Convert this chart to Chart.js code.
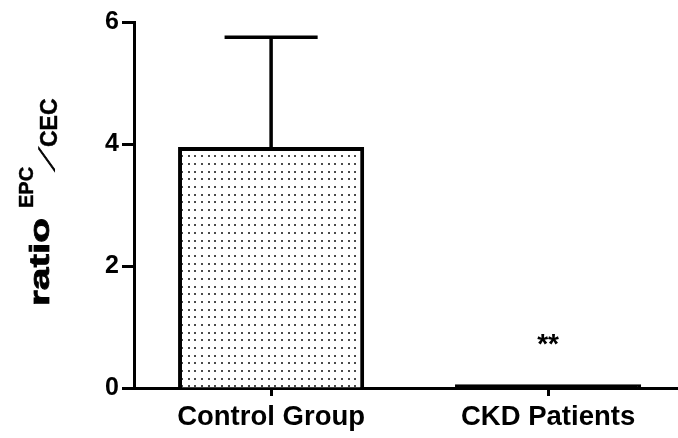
<!DOCTYPE html>
<html><head><meta charset="utf-8">
<script src="https://cdn.jsdelivr.net/npm/chart.js@4/dist/chart.umd.min.js"></script>
<style>html,body{margin:0;padding:0;background:#fff;overflow:hidden}#wrap{width:678px;height:438px;position:relative;background:#fff}</style>
</head><body><div id="wrap"><canvas id="c" width="678" height="438"></canvas></div>
<script>
// ---- data ----
const categories = ['Control Group', 'CKD Patients'];
const xPositions = [1, 2];
const means = [3.95, 0.06];
const errors = [1.8, 0];
const yTicks = [0, 2, 4, 6];
const annotations = ['', '**'];
const annotationY = [null, 0.57];
const yTitleParts = ['ratio', 'EPC', '/', 'CEC'];

const FONT = '"Liberation Sans", Arial, Helvetica, sans-serif';

// dotted fill pattern
function makePattern() {
  const t = document.createElement('canvas');
  t.width = 20; t.height = 23;
  const g = t.getContext('2d');
  g.fillStyle = '#fff'; g.fillRect(0, 0, 20, 23);
  g.fillStyle = '#4a4a4a';
  [1, 8, 14].forEach(px => [2, 10, 17].forEach(py => g.fillRect(px, py, 2, 2)));
  return document.getElementById('c').getContext('2d').createPattern(t, 'repeat');
}
const dotPattern = makePattern();

const extras = {
  id: 'extras',
  beforeDraw(chart) {
    const ctx = chart.ctx;
    ctx.save(); ctx.fillStyle = '#fff'; ctx.fillRect(0, 0, chart.width, chart.height); ctx.restore();
  },
  afterDatasetsDraw(chart) {
    const { ctx, scales: { x, y } } = chart;
    const meta = chart.getDatasetMeta(0);
    ctx.save();
    ctx.strokeStyle = '#000'; ctx.lineWidth = 3.5; ctx.lineCap = 'butt';
    meta.data.forEach((bar, i) => {
      if (!errors[i]) return;
      const cx = x.getPixelForValue(xPositions[i]);
      const y0 = y.getPixelForValue(means[i]);
      const y1 = y.getPixelForValue(means[i] + errors[i]);
      const half = bar.width / 4;
      ctx.beginPath();
      ctx.moveTo(cx, y0); ctx.lineTo(cx, y1);
      ctx.moveTo(cx - half, y1); ctx.lineTo(cx + half, y1);
      ctx.stroke();
    });
    ctx.fillStyle = '#000';
    ctx.font = 'bold 28px ' + FONT;
    ctx.textAlign = 'center'; ctx.textBaseline = 'alphabetic';
    annotations.forEach((a, i) => {
      if (!a) return;
      ctx.fillText(a, x.getPixelForValue(xPositions[i]), y.getPixelForValue(annotationY[i]));
    });
    ctx.restore();
  },
  afterDraw(chart) {
    const ctx = chart.ctx;
    const styles = [
      { bx: 49, by: 306, size: 28, sx: 1.45, shear: 0, stroke: 0.8 },
      { bx: 33, by: 208, size: 20, sx: 1.0, shear: 0, stroke: 0.4 },
      { bx: 54, by: 171, size: 21, sx: 1.0, shear: 1.2, stroke: 1.2 },
      { bx: 57, by: 147, size: 23, sx: 1.0, shear: 0, stroke: 0.4 }
    ];
    ctx.save();
    ctx.fillStyle = '#000'; ctx.strokeStyle = '#000';
    ctx.textAlign = 'left'; ctx.textBaseline = 'alphabetic';
    yTitleParts.forEach((t, i) => {
      const s = styles[i];
      ctx.save();
      ctx.translate(s.bx, s.by);
      ctx.rotate(-Math.PI / 2);
      ctx.transform(s.sx, 0, -s.shear, 1, 0, 0);
      ctx.font = 'bold ' + s.size + 'px ' + FONT;
      ctx.fillText(t, 0, 0);
      if (s.stroke) { ctx.lineWidth = s.stroke; ctx.strokeText(t, 0, 0); }
      ctx.restore();
    });
    ctx.restore();
  }
};

new Chart(document.getElementById('c'), {
  type: 'bar',
  data: {
    datasets: [{
      data: xPositions.map((xv, i) => ({ x: xv, y: means[i] })),
      backgroundColor: [dotPattern, '#000'],
      borderColor: '#000',
      borderWidth: 4,
      barPercentage: 0.672,
      categoryPercentage: 1
    }]
  },
  options: {
    responsive: false,
    animation: false,
    events: [],
    layout: { padding: { top: 22, right: 0, left: 0, bottom: 0 } },
    plugins: { legend: { display: false }, tooltip: { enabled: false } },
    scales: {
      x: {
        type: 'linear',
        offset: false,
        min: 0.505, max: 2.469,
        afterBuildTicks: s => { s.ticks = xPositions.map(v => ({ value: v })); },
        afterFit: s => { s.height = 50; },
        ticks: {
          callback: v => categories[xPositions.indexOf(v)],
          font: { family: FONT, size: 27.5, weight: 'bold' },
          color: '#000', padding: 5, maxRotation: 0, autoSkip: false
        },
        grid: { offset: false, drawOnChartArea: false, tickLength: 8, tickWidth: 3, tickColor: '#000' },
        border: { color: '#000', width: 3 }
      },
      y: {
        min: 0, max: 6,
        afterBuildTicks: s => { s.ticks = yTicks.map(v => ({ value: v })); },
        afterFit: s => { s.width = 134; },
        ticks: {
          font: { family: FONT, size: 25, weight: 'bold' },
          color: '#000', padding: 3
        },
        grid: { drawOnChartArea: false, tickLength: 12, tickWidth: 3, tickColor: '#000' },
        border: { color: '#000', width: 3 }
      }
    }
  },
  plugins: [extras]
});
</script>
</body></html>
